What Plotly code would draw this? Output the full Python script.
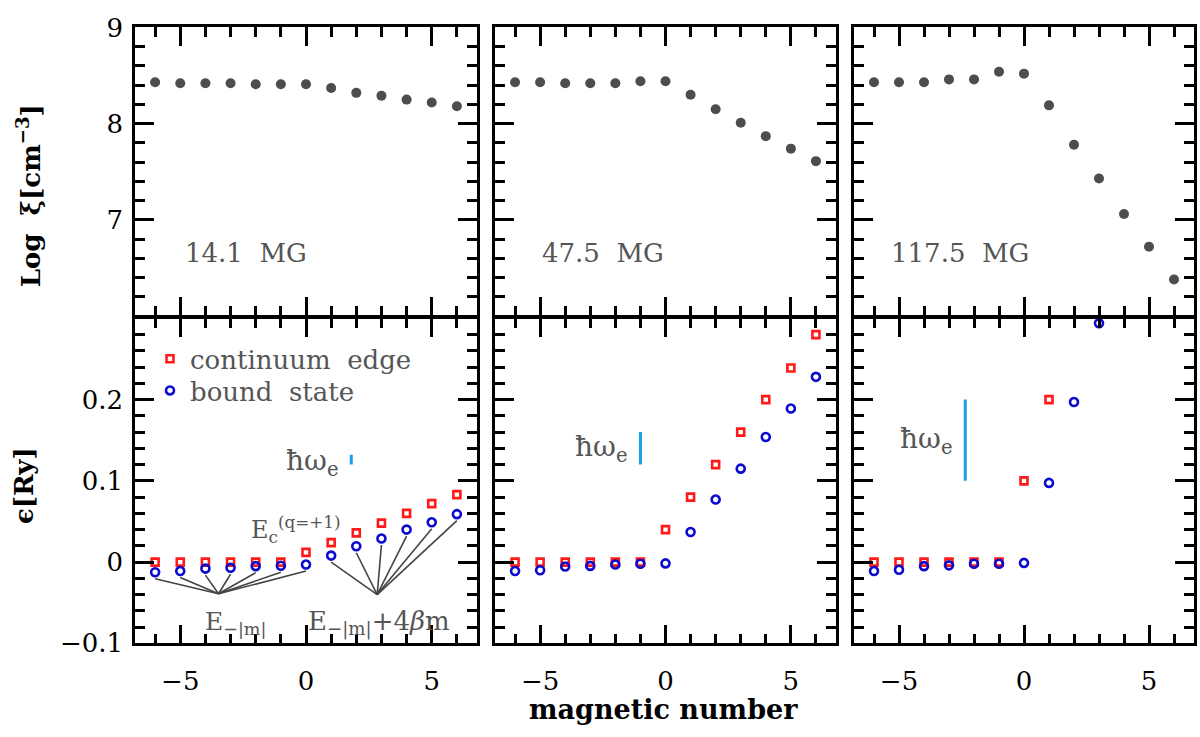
import plotly.graph_objects as go

# ---------------- data ----------------
m = list(range(-6, 7))
fields = ["14.1  MG", "47.5  MG", "117.5  MG"]

logxi_14 = [8.43, 8.42, 8.42, 8.42, 8.41, 8.41, 8.41, 8.37, 8.32, 8.29, 8.25, 8.22, 8.18]
logxi_47 = [8.43, 8.43, 8.42, 8.42, 8.42, 8.44, 8.44, 8.30, 8.15, 8.01, 7.87, 7.74, 7.61]
logxi_117 = [8.43, 8.43, 8.43, 8.46, 8.46, 8.54, 8.52, 8.19, 7.78, 7.43, 7.06, 6.72, 6.38]

m_edge_117 = list(range(-6, 2))
m_bound_117 = list(range(-6, 4))
edge_14 = [0, 0, 0, 0, 0, 0, 0.012, 0.024, 0.036, 0.048, 0.060, 0.072, 0.083]
bound_14 = [-0.0125, -0.011, -0.008, -0.007, -0.005, -0.0045, -0.003, 0.008, 0.0195, 0.029, 0.040, 0.049, 0.059]
edge_47 = [0, 0, 0, 0, 0, 0, 0.040, 0.080, 0.120, 0.160, 0.200, 0.239, 0.280]
bound_47 = [-0.011, -0.010, -0.0055, -0.0047, -0.003, -0.002, -0.0016, 0.037, 0.077, 0.115, 0.154, 0.189, 0.228]
edge_117 = [0, 0, 0, 0, 0, 0, 0.100, 0.200]
bound_117 = [-0.011, -0.0095, -0.005, -0.004, -0.002, -0.002, -0.001, 0.0975, 0.197, 0.294]

# cyclotron energy hbar*omega_e markers
hw_x = [1.8, -1.0, -2.35]
hw_base = [0.120, 0.120, 0.100]
hw_size = [0.012, 0.040, 0.100]

x_ticks = [-5, 0, 5]
x_minor = list(range(-6, 7))
top_y_ticks = [6, 7, 8, 9]
top_y_text = ["", "7", "8", "9"]
bot_y_ticks = [-0.1, 0, 0.1, 0.2, 0.3]
bot_y_text = ["\u22120.1", "0", "0.1", "0.2", ""]

# ---------------- style ----------------
SERIF = "DejaVu Serif"
GRAY = "#4d4d4d"
TXT = "#555555"
RED = "#ff1a1a"
BLUE = "#0a0ad0"
CYAN = "#1e9ee8"
W, H = 1200, 737

col_px = [(135, 477), (495, 836), (854, 1194)]
top_px = (13, 313.75)
bot_px = (316.25, 655)


def xd(p):
    return [p[0] / W, p[1] / W]


def yd(p):
    return [1 - p[1] / H, 1 - p[0] / H]


fig = go.Figure()

logxi = [logxi_14, logxi_47, logxi_117]
edges = [(m, edge_14), (m, edge_47), (m_edge_117, edge_117)]
bounds = [(m, bound_14), (m, bound_47), (m_bound_117, bound_117)]

for i in range(3):
    xt = "x" if i == 0 else f"x{i+1}"
    yt = "y" if i == 0 else f"y{i+1}"
    xb = f"x{i+4}"
    yb = f"y{i+4}"
    fig.add_trace(go.Scatter(x=m, y=logxi[i], mode="markers", xaxis=xt, yaxis=yt,
                             marker=dict(symbol="circle", size=10, color=GRAY),
                             showlegend=False))
    fig.add_trace(go.Scatter(x=edges[i][0], y=edges[i][1], mode="markers", xaxis=xb, yaxis=yb,
                             name="continuum  edge", legend="legend",
                             marker=dict(symbol="square-open", size=7, color=RED,
                                         line=dict(width=2.6, color=RED)),
                             showlegend=(i == 0)))
    fig.add_trace(go.Scatter(x=bounds[i][0], y=bounds[i][1], mode="markers", xaxis=xb, yaxis=yb,
                             name="bound  state", legend="legend2",
                             marker=dict(symbol="circle-open", size=8, color=BLUE,
                                         line=dict(width=2.6, color=BLUE)),
                             showlegend=(i == 0)))
    # hbar omega_e bar
    fig.add_trace(go.Scatter(x=[hw_x[i], hw_x[i]], y=[hw_base[i], hw_base[i] + hw_size[i]],
                             mode="lines", xaxis=xb, yaxis=yb,
                             line=dict(color=CYAN, width=3), showlegend=False))

# pointer lines in the first bottom panel
conv_left = (-3.48, -0.039)
conv_right = (2.83, -0.040)
lx, ly = [], []
for mm, b in zip(m, bound_14):
    cx, cy = conv_left if mm <= 0 else conv_right
    lx += [mm, cx, None]
    ly += [b - 0.008, cy, None]
fig.add_trace(go.Scatter(x=lx, y=ly, mode="lines", xaxis="x4", yaxis="y4",
                         line=dict(color="#444444", width=1.6), showlegend=False))

axis_common = dict(showline=True, linewidth=2.5, linecolor="black", mirror="allticks",
                   ticks="inside", tickwidth=2.5, tickcolor="black", ticklen=19,
                   showgrid=False, zeroline=False, ticklabeloverflow="allow",
                   tickfont=dict(family=SERIF, size=26, color="black"))

layout = {}
for i in range(3):
    k_top = "" if i == 0 else str(i + 1)
    k_bot = str(i + 4)
    layout["xaxis" + k_top] = dict(axis_common, domain=xd(col_px[i]), range=[-6.8, 6.8],
                                   tickvals=x_ticks, showticklabels=False,
                                   anchor="y" + k_top,
                                   minor=dict(tickvals=x_minor, ticks="inside", ticklen=10,
                                              tickwidth=2.5, tickcolor="black"))
    layout["yaxis" + k_top] = dict(axis_common, domain=yd(top_px), range=[6, 9],
                                   tickvals=top_y_ticks, ticktext=top_y_text,
                                   showticklabels=(i == 0), anchor="x" + k_top,
                                   ticklabelstandoff=4,
                                   minor=dict(dtick=0.2, tick0=6, ticks="inside", ticklen=10,
                                              tickwidth=2.5, tickcolor="black"))
    layout["xaxis" + k_bot] = dict(axis_common, domain=xd(col_px[i]), range=[-6.8, 6.8],
                                   tickvals=x_ticks, ticktext=["\u22125", "0", "5"],
                                   anchor="y" + k_bot, ticklabelstandoff=13,
                                   minor=dict(tickvals=x_minor, ticks="inside", ticklen=10,
                                              tickwidth=2.5, tickcolor="black"))
    layout["yaxis" + k_bot] = dict(axis_common, domain=yd(bot_px), range=[-0.1, 0.3],
                                   tickvals=bot_y_ticks, ticktext=bot_y_text,
                                   showticklabels=(i == 0), anchor="x" + k_bot,
                                   ticklabelstandoff=4,
                                   minor=dict(dtick=0.02, tick0=-0.1, ticks="inside", ticklen=10,
                                              tickwidth=2.5, tickcolor="black"))

fig.update_layout(**layout)

ann = []
field_x = [-4.88, -5.0, -5.4]
for i in range(3):
    xt = "x" if i == 0 else f"x{i+1}"
    yt = "y" if i == 0 else f"y{i+1}"
    ann.append(dict(x=field_x[i], y=6.66, xref=xt, yref=yt, text=fields[i], showarrow=False,
                    xanchor="left", yanchor="middle",
                    font=dict(family=SERIF, size=26, color=TXT)))
    ann.append(dict(x=hw_x[i], y=hw_base[i] + 0.5 * hw_size[i] if i else 0.122,
                    xref=f"x{i+4}", yref=f"y{i+4}",
                    text="\u0127\u03c9<sub>e</sub>", showarrow=False, xanchor="right",
                    yanchor="middle", xshift=-11,
                    font=dict(family=SERIF, size=28, color=TXT)))

ann += [
    dict(x=-0.4, y=0.040, xref="x4", yref="y4", text="E<sub>c</sub><sup>(q=+1)</sup>",
         showarrow=False, xanchor="center", yanchor="middle",
         font=dict(family=SERIF, size=24, color=TXT)),
    dict(x=-2.8, y=-0.075, xref="x4", yref="y4", text="E<sub>\u2212|m|</sub>",
         showarrow=False, xanchor="center", yanchor="middle",
         font=dict(family=SERIF, size=25, color=TXT)),
    dict(x=2.9, y=-0.075, xref="x4", yref="y4", text="E<sub>\u2212|m|</sub>+4<i>\u03b2</i>m",
         showarrow=False, xanchor="center", yanchor="middle",
         font=dict(family=SERIF, size=26, color=TXT)),
    dict(x=663 / W, y=1 - 724 / H, xref="paper", yref="paper", text="<b>magnetic number</b>",
         showarrow=False, xanchor="center", yanchor="middle",
         font=dict(family=SERIF, size=27, color="black")),
    dict(x=29 / W, y=1 - 189 / H, xref="paper", yref="paper",
         text="<b>Log  \u03be[cm<sup>\u22123</sup>]</b>", textangle=-90,
         showarrow=False, xanchor="center", yanchor="middle",
         font=dict(family=SERIF, size=26, color="black")),
    dict(x=24 / W, y=1 - 491 / H, xref="paper", yref="paper",
         text="<b>\u03f5[Ry]</b>", textangle=-90,
         showarrow=False, xanchor="center", yanchor="middle",
         font=dict(family=SERIF, size=26, color="black")),
]

legend_common = dict(xanchor="left", yanchor="top", bgcolor="rgba(0,0,0,0)",
                     font=dict(family=SERIF, size=26, color=TXT), itemwidth=30)

fig.update_layout(
    width=W, height=H,
    margin=dict(l=0, r=0, t=0, b=0),
    paper_bgcolor="white", plot_bgcolor="white",
    annotations=ann,
    legend=dict(legend_common, x=150 / W, y=1 - 334 / H),
    legend2=dict(legend_common, x=150 / W, y=1 - 367 / H),
)

fig.write_html("out.html", config={"displayModeBar": False},
               post_script="document.body.style.margin='0';document.body.style.overflow='hidden';")
